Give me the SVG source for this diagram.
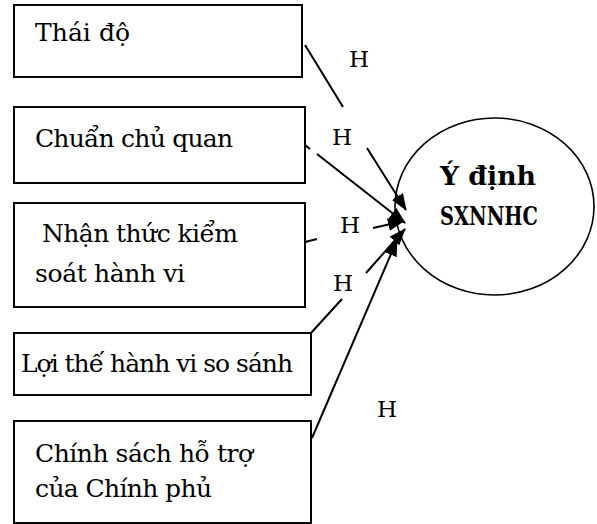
<svg xmlns="http://www.w3.org/2000/svg" width="597" height="524" viewBox="0 0 597 524">
<style>
.box{fill:#fff;stroke:#000;stroke-width:2}
.t{font-family:"DejaVu Serif","Liberation Serif",serif;font-size:25px;fill:#000}
.h{font-family:"DejaVu Serif","Liberation Serif",serif;font-size:23px;fill:#000}
.title{font-family:"DejaVu Serif","Liberation Serif",serif;font-size:26px;font-weight:bold;fill:#000}
.conn{fill:none;stroke:#000;stroke-width:2}
</style>
<defs>
<marker id="arr" markerUnits="userSpaceOnUse" markerWidth="17" markerHeight="13" refX="16" refY="6.5" orient="auto">
<path d="M0,0 L17,6.5 L0,13 z" fill="#000"/>
</marker>
</defs>
<rect width="597" height="524" fill="#fff"/>
<g id="n1"><rect class="box" x="14" y="5" width="288" height="72"/><text class="t" x="35" y="41" textLength="95">Thái độ</text></g>
<g id="n2"><rect class="box" x="14" y="107" width="291" height="76"/><text class="t" x="35" y="147" textLength="198">Chuẩn chủ quan</text></g>
<g id="n3"><rect class="box" x="14" y="203" width="291" height="104"/><text class="t" x="42" y="242" textLength="196">Nhận thức kiểm</text><text class="t" x="35" y="282" textLength="150">soát hành vi</text></g>
<g id="n4"><rect class="box" x="14" y="333" width="297" height="62"/><text class="t" x="21" y="372" textLength="272">Lợi thế hành vi so sánh</text></g>
<g id="n5"><rect class="box" x="14" y="421" width="297" height="102"/><text class="t" x="35" y="462" textLength="218">Chính sách hỗ trợ</text><text class="t" x="35" y="497" textLength="177">của Chính phủ</text></g>
<g id="target"><ellipse cx="494.5" cy="206.5" rx="99.5" ry="88.5" fill="#fff" stroke="#000" stroke-width="1.6"/><text class="title" x="440" y="185" textLength="96" lengthAdjust="spacingAndGlyphs">Ý định</text><text class="title" x="440" y="225" textLength="98" lengthAdjust="spacingAndGlyphs">SXNNHC</text></g>
<g id="connectors">
<path class="conn" d="M305,45 L343,107 M367,148 L406,210" marker-end="url(#arr)"/>
<path class="conn" d="M305,145 L310,149 M317,154 L405,223" marker-end="url(#arr)"/>
<path class="conn" d="M305,242 L317,239 M373,228 L404,221" marker-end="url(#arr)"/>
<path class="conn" d="M311,333 L342,299 M366,273 L405,229" marker-end="url(#arr)"/>
<path class="conn" d="M312,438 L397,240" marker-end="url(#arr)"/>
</g>
<g id="labels">
<text class="h" x="349" y="67">H</text>
<text class="h" x="332" y="145">H</text>
<text class="h" x="340" y="233">H</text>
<text class="h" x="333" y="291">H</text>
<text class="h" x="377" y="417">H</text>
</g>
</svg>
